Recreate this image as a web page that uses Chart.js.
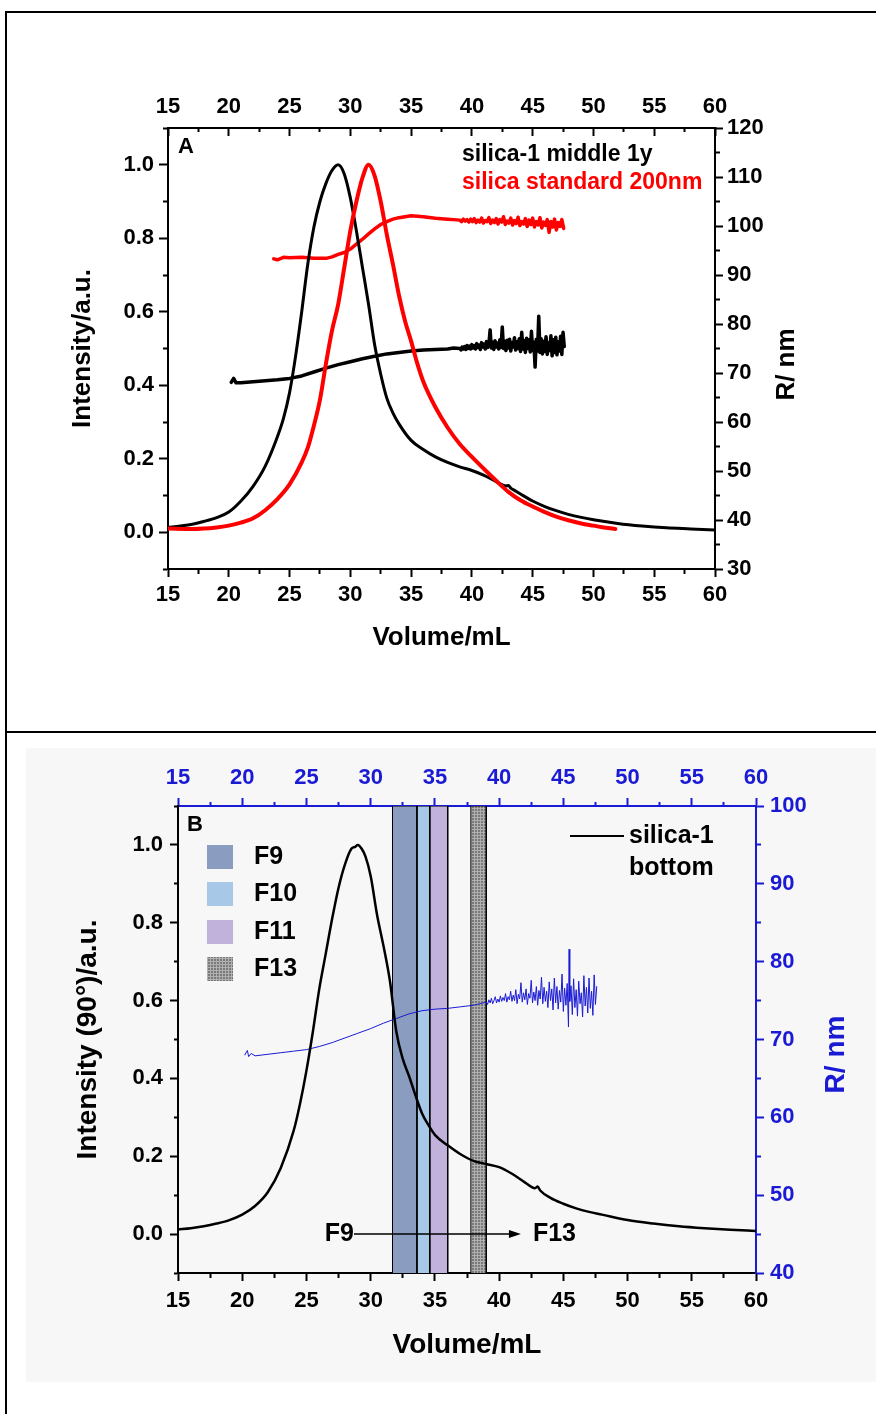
<!DOCTYPE html>
<html>
<head>
<meta charset="utf-8">
<script src="https://cdn.jsdelivr.net/npm/chart.js@4.4.1/dist/chart.umd.min.js"></script>
<style>
  html, body { margin: 0; padding: 0; background: #fff; }
  #page { position: relative; width: 876px; height: 1414px; overflow: hidden; }
  .rule { position: absolute; background: #000; }
  #panelB { position: absolute; left: 26px; top: 748px; width: 850px; height: 634px; background: #f7f7f7; }
  canvas { position: absolute; left: 0; }
</style>
</head>
<body>
<div id="page">
  <div id="panelB"></div>
  <div class="rule" style="left:5px;top:11px;width:871px;height:2px"></div>
  <div class="rule" style="left:5px;top:11px;width:2px;height:1403px"></div>
  <div class="rule" style="left:5px;top:731px;width:871px;height:2px"></div>
  <canvas id="chartA" width="876" height="730" style="top:0"></canvas>
  <canvas id="chartB" width="876" height="681" style="top:733px"></canvas>
</div>
<script>
// tick labels
const volumeLabels = [15, 20, 25, 30, 35, 40, 45, 50, 55, 60];
const intensityLabels = [0, 0.2, 0.4, 0.6, 0.8, 1];
const radiusLabelsA = [30, 40, 50, 60, 70, 80, 90, 100, 110, 120];
const radiusLabelsB = [40, 50, 60, 70, 80, 90, 100];

// panel A: silica-1 middle 1y (intensity)
const volA1 = [15, 16, 17, 18, 19, 20, 21, 22, 23, 24, 24.5, 25, 25.5, 26, 26.5, 27, 27.5, 28, 28.5, 29, 29.5, 30, 30.5, 31, 31.5, 32, 32.5, 33, 33.5, 34,
  35, 36, 37, 38, 39, 40, 41, 42, 42.8, 43.0, 43.2, 43.5, 44, 45, 46, 47, 48, 50, 52, 54, 56, 58, 60];
const intA1 = [0.013, 0.017, 0.022, 0.03, 0.04, 0.055, 0.085, 0.125, 0.18, 0.26, 0.31, 0.38, 0.48, 0.6, 0.73, 0.83, 0.9, 0.95, 0.985, 1.0, 0.975, 0.91, 0.82, 0.72, 0.62, 0.51, 0.43, 0.365, 0.325, 0.295,
  0.25, 0.225, 0.205, 0.19, 0.178, 0.168, 0.155, 0.138, 0.126, 0.127, 0.12, 0.114, 0.104, 0.085, 0.07, 0.058, 0.048, 0.034, 0.024, 0.017, 0.012, 0.009, 0.006];

// panel A: silica standard 200nm (intensity)
const volA2 = [15, 17, 19, 20, 21, 22, 23, 24, 25, 26, 26.5, 27, 27.5, 28, 28.5, 29, 29.5, 30, 30.5, 31, 31.5, 32, 32.5, 33, 33.5, 34, 34.5, 35, 35.5, 36,
  37, 38, 39, 40, 41, 42, 43, 44, 45, 46, 47, 48, 49, 50, 51, 51.8];
const intA2 = [0.01, 0.009, 0.013, 0.018, 0.026, 0.038, 0.06, 0.09, 0.13, 0.19, 0.23, 0.29, 0.36, 0.46, 0.55, 0.62, 0.72, 0.82, 0.9, 0.965, 1.0, 0.97, 0.9, 0.81, 0.73, 0.645, 0.575, 0.52, 0.46, 0.41,
  0.34, 0.285, 0.24, 0.205, 0.172, 0.14, 0.11, 0.087, 0.07, 0.055, 0.042, 0.032, 0.024, 0.018, 0.012, 0.009];

// panel A: R (nm), silica-1 middle 1y
const rVolA1 = [20.2, 20.4, 20.6, 21, 22, 23, 24, 25, 26, 27, 28, 29, 30, 31, 32, 33, 34, 35, 36, 37, 38, 38.5,
  39.0, 39.1, 39.2, 39.3, 39.4, 39.5, 39.6, 39.7, 39.8, 39.9,
  40.0, 40.1, 40.2, 40.3, 40.4, 40.5, 40.6, 40.7, 40.8, 40.9,
  41.0, 41.1, 41.2, 41.3, 41.4, 41.5, 41.6, 41.7, 41.8, 41.9,
  42.0, 42.1, 42.2, 42.3, 42.4, 42.5, 42.6, 42.7, 42.8, 42.9,
  43.0, 43.1, 43.2, 43.3, 43.4, 43.5, 43.6, 43.7, 43.8, 43.9,
  44.0, 44.1, 44.2, 44.3, 44.4, 44.5, 44.6, 44.7, 44.8, 44.9,
  45.0, 45.1, 45.2, 45.3, 45.4, 45.5, 45.6, 45.7, 45.8, 45.9,
  46.0, 46.1, 46.2, 46.3, 46.4, 46.5, 46.6, 46.7, 46.8, 46.9,
  47.0, 47.1, 47.2, 47.3, 47.4, 47.5, 47.6];
const rA1 = [68.1, 68.9, 68.0, 68.0, 68.2, 68.4, 68.6, 68.9, 69.4, 70.2, 71.0, 71.7, 72.3, 72.9, 73.4, 73.9, 74.2, 74.5, 74.7, 74.8, 74.9, 75.1,
  75.0, 74.7, 75.3, 74.9, 75.4, 74.8, 75.6, 75.0, 75.5, 74.9,
  75.8, 75.1, 75.6, 74.9, 76.0, 75.2, 75.7, 74.8, 76.2, 75.3,
  75.9, 74.9, 76.4, 75.2, 76.0, 78.8, 75.1, 76.3, 74.8, 76.6,
  75.3, 76.1, 74.9, 76.8, 75.2, 79.4, 75.0, 76.5, 74.6, 76.7,
  75.1, 76.9, 74.5, 76.2, 75.3, 77.2, 74.7, 76.4, 75.0, 77.0,
  74.4, 78.3, 74.9, 76.6, 74.2, 77.1, 75.0, 76.8, 74.3, 78.5,
  74.6, 76.3, 71.2, 76.9, 74.5, 81.6, 74.2, 77.0, 73.9, 76.5,
  74.4, 77.4, 73.8, 76.1, 74.6, 77.6, 73.5, 76.8, 74.2, 77.3,
  73.7, 76.4, 74.5, 77.5, 73.8, 78.3, 75.4];

// panel A: R (nm), silica standard 200nm
const rVolA2 = [23.7, 24, 24.5, 25, 26, 27, 28, 28.5, 29, 29.5, 30, 30.5, 31, 31.5, 32, 32.5, 33, 33.5, 34, 34.5, 35, 35.5, 36, 37, 38, 38.5,
  39.0, 39.15, 39.3, 39.45, 39.6, 39.75, 39.9, 40.05, 40.2, 40.35,
  40.5, 40.65, 40.8, 40.95, 41.1, 41.25, 41.4, 41.55, 41.7, 41.85,
  42.0, 42.15, 42.3, 42.45, 42.6, 42.75, 42.9, 43.05, 43.2, 43.35,
  43.5, 43.65, 43.8, 43.95, 44.1, 44.25, 44.4, 44.55, 44.7, 44.85,
  45.0, 45.15, 45.3, 45.45, 45.6, 45.75, 45.9, 46.05, 46.2, 46.35,
  46.5, 46.65, 46.8, 46.95, 47.1, 47.25, 47.4, 47.55];
const rA2 = [93.3, 93.1, 93.6, 93.5, 93.6, 93.4, 93.4, 93.7, 94.2, 94.6, 95.3, 96.3, 97.3, 98.4, 99.4, 100.3, 100.9, 101.4, 101.7, 101.9, 102.1, 102.0, 101.9, 101.6, 101.4, 101.3,
  101.2, 100.9, 101.4, 101.0, 101.3, 100.8, 101.4, 100.9, 101.5, 100.7,
  101.2, 100.8, 101.6, 100.6, 101.1, 100.9, 101.7, 100.5, 101.2, 100.7,
  101.5, 100.4, 101.3, 100.8, 101.9, 100.3, 101.0, 100.6, 101.6, 100.2,
  101.1, 100.5, 101.8, 100.1, 100.9, 100.4, 101.5, 99.9, 101.2, 100.3,
  101.6, 99.8, 100.9, 100.2, 101.7, 99.6, 100.8, 100.1, 101.3, 98.7,
  100.9, 99.8, 101.4, 99.2, 100.7, 99.9, 101.3, 99.5];

// panel B: silica-1 bottom (intensity)
const volB = [15, 16, 17, 18, 19, 20, 21, 22, 23, 24, 24.5, 25, 25.5, 26, 26.5, 27, 27.5, 28, 28.5, 28.8, 29, 29.3, 29.6, 30, 30.5, 31, 31.5, 32, 32.5, 33, 33.5, 34, 34.5, 35,
  36, 37, 38, 39, 40, 41, 42, 42.8, 43.0, 43.2, 44, 45, 46, 47, 48, 50, 52, 54, 56, 58, 60];
const intB = [0.012, 0.015, 0.02, 0.027, 0.036, 0.05, 0.072, 0.108, 0.17, 0.265, 0.335, 0.42, 0.52, 0.63, 0.72, 0.81, 0.89, 0.95, 0.99, 0.995, 1.0, 0.99, 0.97, 0.92, 0.82, 0.74, 0.65, 0.52, 0.45, 0.405, 0.355, 0.31, 0.28, 0.255,
  0.228, 0.205, 0.188, 0.18, 0.172, 0.155, 0.133, 0.118, 0.122, 0.112, 0.093, 0.078, 0.066, 0.057, 0.05, 0.036, 0.027, 0.02, 0.015, 0.011, 0.008];

// panel B: R (nm)
const rVolB = [20.2, 20.4, 20.5, 20.7, 21, 22, 23, 24, 25, 26, 27, 28, 29, 30, 31, 32, 33, 34, 35, 36, 37, 38, 38.5,
  39.0, 39.1, 39.2, 39.3, 39.4, 39.5, 39.6, 39.7, 39.8, 39.9,
  40.0, 40.1, 40.2, 40.3, 40.4, 40.5, 40.6, 40.7, 40.8, 40.9,
  41.0, 41.1, 41.2, 41.3, 41.4, 41.5, 41.6, 41.7, 41.8, 41.9,
  42.0, 42.1, 42.2, 42.3, 42.4, 42.5, 42.6, 42.7, 42.8, 42.9,
  43.0, 43.1, 43.2, 43.3, 43.4, 43.5, 43.6, 43.7, 43.8, 43.9,
  44.0, 44.1, 44.2, 44.3, 44.4, 44.5, 44.6, 44.7, 44.8, 44.9,
  45.0, 45.1, 45.2, 45.3, 45.4, 45.45, 45.5, 45.6, 45.7, 45.8, 45.9,
  46.0, 46.1, 46.2, 46.3, 46.4, 46.5, 46.6, 46.7, 46.8, 46.9,
  47.0, 47.1, 47.2, 47.3, 47.4, 47.5, 47.6];
const rB = [68.0, 68.6, 67.8, 68.2, 67.9, 68.1, 68.3, 68.5, 68.7, 69.1, 69.6, 70.2, 70.8, 71.4, 72.1, 72.7, 73.3, 73.7, 73.9, 74.0, 74.2, 74.4, 74.6,
  74.8, 74.5, 75.1, 74.7, 75.3, 74.6, 75.0, 75.5, 74.7, 75.2,
  74.8, 75.6, 74.9, 75.4, 75.0, 75.9, 74.8, 75.5, 75.1, 76.2,
  74.9, 75.7, 75.0, 76.4, 74.6, 75.8, 75.2, 77.3, 74.8, 76.0,
  75.1, 76.5, 74.5, 75.9, 75.3, 77.6, 74.7, 76.1, 75.0, 76.8,
  74.4, 76.3, 75.2, 78.0, 74.6, 76.7, 74.9, 76.2, 74.1, 77.4,
  75.0, 76.5, 73.8, 77.9, 74.7, 76.8, 73.9, 76.3, 74.8, 78.4,
  73.6, 76.6, 74.4, 77.2, 71.6, 81.6, 74.9, 76.9, 73.2, 77.8, 74.1,
  76.4, 73.0, 77.5, 74.6, 76.0, 72.9, 78.2, 74.3, 76.7, 73.4,
  77.9, 74.0, 76.2, 73.1, 78.3, 74.5, 76.8];

// collected fractions (volume ranges, mL)
const fractions = ['F9', 'F10', 'F11', 'F13'];
const fractionStart = [31.7, 33.6, 34.6, 37.8];
const fractionEnd = [33.6, 34.6, 36.0, 39.0];
const arrowFrom = 28.7, arrowTo = 41.7;

const FONT = '"Liberation Sans", Arial, sans-serif';
const BLUE = '#1a1ad4';

const pts = (xs, ys) => xs.map((x, i) => ({ x, y: ys[i] }));
const isLabel = (list, v) => list.some(l => Math.abs(l - v) < 1e-6);

// checkered grey fill for F13
function checker() {
  const c = document.createElement('canvas');
  c.width = 3; c.height = 3;
  const g = c.getContext('2d');
  g.fillStyle = '#7a7a7a'; g.fillRect(0, 0, 3, 3);
  g.fillStyle = '#b0b0b0'; g.fillRect(0, 0, 3, 1); g.fillRect(0, 0, 1, 3);
  return g.createPattern(c, 'repeat');
}
const fractionColors = ['#8a9cbf', '#a8c8e8', '#c1b2db', checker()];

function axis(position, min, max, step, labels, o) {
  const horizontal = position === 'top' || position === 'bottom';
  const len = o.tick;
  const full = Math.abs(len);
  const minor = Math.round(full / 2);
  const fromOuter = position === 'top' || position === 'left';
  return {
    type: 'linear', position, min, max,
    afterFit: s => { if (horizontal) s.height = o.size; else s.width = o.size; },
    border: { color: o.color, width: 2 },
    grid: {
      drawOnChartArea: false, tickLength: len, tickColor: o.color, tickWidth: 2,
      tickBorderDash: c => isLabel(labels, c.tick.value) ? [] :
        (fromOuter ? [0, full - minor, minor, 100] : [minor, 100])
    },
    ticks: {
      stepSize: step, padding: o.pad, color: o.color, autoSkip: false, maxRotation: 0,
      font: { family: FONT, size: 22, weight: 'bold' },
      callback: v => isLabel(labels, v) ? o.fmt(v) : ''
    },
    title: o.title || { display: false }
  };
}

const common = {
  responsive: false, animation: false, events: [],
  layout: { padding: 0 },
  elements: { point: { radius: 0 }, line: { tension: 0, borderJoinStyle: 'round', borderCapStyle: 'round', fill: false } },
  plugins: { legend: { display: false }, tooltip: { enabled: false } }
};

const annotA = {
  id: 'annotA',
  afterDraw(chart) {
    const { ctx, chartArea: a } = chart;
    ctx.save();
    ctx.textBaseline = 'middle';
    ctx.fillStyle = '#000';
    ctx.font = `bold 22px ${FONT}`;
    ctx.fillText('A', a.left + 10, a.top + 19);
    ctx.font = `bold 23px ${FONT}`;
    ctx.fillText('silica-1 middle 1y', a.left + 294, a.top + 27);
    ctx.fillStyle = '#ff0000';
    ctx.fillText('silica standard 200nm', a.left + 294, a.top + 55);
    ctx.fillStyle = '#000';
    ctx.font = `bold 26px ${FONT}`;
    ctx.textAlign = 'center';
    ctx.translate(a.right + 72, (a.top + a.bottom) / 2 + 16);
    ctx.rotate(-Math.PI / 2);
    ctx.fillText('R/ nm', 0, 0);
    ctx.restore();
  }
};

new Chart(document.getElementById('chartA'), {
  type: 'line',
  data: {
    datasets: [
      { label: 'silica standard 200nm', data: pts(volA2, intA2), borderColor: '#ff0000', borderWidth: 4, yAxisID: 'y', cubicInterpolationMode: 'monotone' },
      { label: 'silica-1 middle 1y', data: pts(volA1, intA1), borderColor: '#000', borderWidth: 3, yAxisID: 'y', cubicInterpolationMode: 'monotone' },
      { label: 'R standard', data: pts(rVolA2, rA2), borderColor: '#ff0000', borderWidth: 3.5, yAxisID: 'y2' },
      { label: 'R middle', data: pts(rVolA1, rA1), borderColor: '#000', borderWidth: 3.5, yAxisID: 'y2' }
    ]
  },
  options: {
    ...common,
    scales: {
      x: axis('bottom', 15, 60, 2.5, volumeLabels, {
        size: 161, tick: 8, pad: 5, color: '#000', fmt: v => String(v),
        title: { display: true, text: 'Volume/mL', color: '#000', font: { family: FONT, size: 26, weight: 'bold' }, padding: { bottom: 77 } }
      }),
      x2: axis('top', 15, 60, 2.5, volumeLabels, { size: 128, tick: -8, pad: 16, color: '#000', fmt: v => String(v) }),
      y: axis('left', -0.1, 1.1, 0.1, intensityLabels, {
        size: 168, tick: 9, pad: 5, color: '#000', fmt: v => v.toFixed(1),
        title: { display: true, text: 'Intensity/a.u.', color: '#000', font: { family: FONT, size: 26, weight: 'bold' }, padding: { top: 67 } }
      }),
      y2: axis('right', 30, 120, 5, radiusLabelsA, { size: 161, tick: 8, pad: 4, color: '#000', fmt: v => String(v) })
    }
  },
  plugins: [annotA]
});

const annotB = {
  id: 'annotB',
  afterDraw(chart) {
    const { ctx, chartArea: a, scales } = chart;
    ctx.save();
    ctx.textBaseline = 'middle';
    ctx.fillStyle = '#000';
    ctx.font = `bold 22px ${FONT}`;
    ctx.fillText('B', a.left + 9, a.top + 19);
    // fraction legend
    ctx.font = `bold 25px ${FONT}`;
    const rows = [51, 88, 126, 163];
    fractions.forEach((f, i) => {
      ctx.fillStyle = fractionColors[i];
      ctx.fillRect(a.left + 29, a.top + rows[i] - 12, 26, 24);
      ctx.fillStyle = '#000';
      ctx.fillText(f, a.left + 76, a.top + rows[i]);
    });
    // series legend
    ctx.strokeStyle = '#000';
    ctx.lineWidth = 2;
    ctx.beginPath();
    ctx.moveTo(a.left + 392, a.top + 30);
    ctx.lineTo(a.left + 446, a.top + 30);
    ctx.stroke();
    ctx.fillText('silica-1', a.left + 451, a.top + 30);
    ctx.fillText('bottom', a.left + 451, a.top + 62);
    // F9 -> F13 arrow
    const y0 = scales.y.getPixelForValue(0);
    const x1 = scales.x.getPixelForValue(arrowFrom);
    const x2 = scales.x.getPixelForValue(arrowTo);
    ctx.lineWidth = 1.5;
    ctx.beginPath();
    ctx.moveTo(x1, y0);
    ctx.lineTo(x2 - 10, y0);
    ctx.stroke();
    ctx.beginPath();
    ctx.moveTo(x2, y0);
    ctx.lineTo(x2 - 12, y0 - 4);
    ctx.lineTo(x2 - 12, y0 + 4);
    ctx.closePath();
    ctx.fill();
    ctx.textAlign = 'right';
    ctx.fillText('F9', x1, y0);
    ctx.textAlign = 'left';
    ctx.fillText('F13', x2 + 12, y0);
    // right axis title
    ctx.fillStyle = BLUE;
    ctx.font = `bold 28px ${FONT}`;
    ctx.textAlign = 'center';
    ctx.translate(a.right + 80, (a.top + a.bottom) / 2 + 15);
    ctx.rotate(-Math.PI / 2);
    ctx.fillText('R/ nm', 0, 0);
    ctx.restore();
  }
};

const bands = fractions.map((f, i) => ({
  label: f,
  data: [
    { x: fractionStart[i], y: -0.1 }, { x: fractionStart[i], y: 1.1 },
    { x: fractionEnd[i], y: 1.1 }, { x: fractionEnd[i], y: -0.1 }
  ],
  borderColor: '#000', borderWidth: 1, backgroundColor: fractionColors[i],
  fill: 'start', yAxisID: 'y', order: 5
}));

new Chart(document.getElementById('chartB'), {
  type: 'line',
  data: {
    datasets: [
      { label: 'silica-1 bottom', data: pts(volB, intB), borderColor: '#000', borderWidth: 2.5, yAxisID: 'y', order: 0, cubicInterpolationMode: 'monotone' },
      { label: 'R', data: pts(rVolB, rB), borderColor: BLUE, borderWidth: 1, yAxisID: 'y2', order: 1 },
      ...bands
    ]
  },
  options: {
    ...common,
    scales: {
      x: axis('bottom', 15, 60, 2.5, volumeLabels, {
        size: 141, tick: 8, pad: 7, color: '#000', fmt: v => String(v),
        title: { display: true, text: 'Volume/mL', color: '#000', font: { family: FONT, size: 28, weight: 'bold' }, padding: { bottom: 52 } }
      }),
      x2: axis('top', 15, 60, 2.5, volumeLabels, { size: 73, tick: 8, pad: 7, color: BLUE, fmt: v => String(v) }),
      y: axis('left', -0.1, 1.1, 0.1, intensityLabels, {
        size: 178, tick: 8, pad: 7, color: '#000', fmt: v => v.toFixed(1),
        title: { display: true, text: 'Intensity (90°)/a.u.', color: '#000', font: { family: FONT, size: 28, weight: 'bold' }, padding: { top: 71 } }
      }),
      y2: axis('right', 40, 100, 5, radiusLabelsB, { size: 120, tick: 8, pad: 6, color: BLUE, fmt: v => String(v) })
    }
  },
  plugins: [annotB]
});
</script>
</body>
</html>
